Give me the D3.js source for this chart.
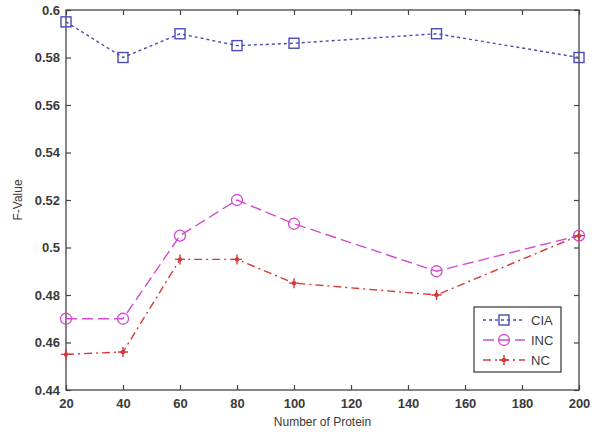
<!DOCTYPE html>
<html><head><meta charset="utf-8">
<script src="https://cdn.jsdelivr.net/npm/d3@7"></script>
<style>body{margin:0;background:#fff}svg{display:block}text{font-family:"Liberation Sans",Arial,sans-serif}</style>
</head><body>
<svg id="c" width="600" height="439"></svg>
<script>
const xValues = [20, 40, 60, 80, 100, 150, 200];
const ciaValues = [0.595, 0.580, 0.590, 0.585, 0.586, 0.590, 0.580];
const incValues = [0.470, 0.470, 0.505, 0.520, 0.510, 0.490, 0.505];
const ncValues  = [0.455, 0.456, 0.495, 0.495, 0.485, 0.480, 0.505];
const xTicks = [20, 40, 60, 80, 100, 120, 140, 160, 180, 200];
const yTicks = [0.44, 0.46, 0.48, 0.50, 0.52, 0.54, 0.56, 0.58, 0.60];
const seriesNames = ["CIA", "INC", "NC"];

const L = 66, R = 579, T = 10, B = 390;
const svg = d3.select("#c");
const x = d3.scaleLinear().domain([20, 200]).range([L, R]);
const y = d3.scaleLinear().domain([0.44, 0.60]).range([B, T]);
const fmt = d => d3.format("")(+d.toFixed(2));
const axisCol = "#444";
const textCol = "#3a3a3a";

svg.append("rect").attr("x", L).attr("y", T).attr("width", R - L).attr("height", B - T)
  .attr("fill", "#fff").attr("stroke", axisCol).attr("stroke-width", 1.3);

function styleAxis(g, labels) {
  g.select(".domain").remove();
  g.selectAll("line").attr("stroke", axisCol).attr("stroke-width", 1.2);
  g.selectAll("text").attr("fill", textCol).attr("font-size", 13).attr("font-weight", "bold")
    .style("display", labels ? null : "none");
}
svg.append("g").attr("transform", `translate(0,${B})`)
  .call(d3.axisBottom(x).tickValues(xTicks).tickSize(-5).tickPadding(9).tickFormat(d3.format("d")))
  .call(g => styleAxis(g, true));
svg.append("g").attr("transform", `translate(0,${T})`)
  .call(d3.axisTop(x).tickValues(xTicks).tickSize(-5).tickFormat(""))
  .call(g => styleAxis(g, false));
svg.append("g").attr("transform", `translate(${L},0)`)
  .call(d3.axisLeft(y).tickValues(yTicks).tickSize(-5).tickPadding(6).tickFormat(fmt))
  .call(g => styleAxis(g, true));
svg.append("g").attr("transform", `translate(${R},0)`)
  .call(d3.axisRight(y).tickValues(yTicks).tickSize(-5).tickFormat(""))
  .call(g => styleAxis(g, false));

svg.append("text").attr("x", (L + R) / 2).attr("y", 426).attr("text-anchor", "middle")
  .attr("font-size", 12).attr("fill", textCol).text("Number of Protein");
svg.append("text").attr("transform", `translate(22,${(T + B) / 2}) rotate(-90)`)
  .attr("text-anchor", "middle").attr("font-size", 12).attr("fill", textCol).text("F-Value");

const series = [
  {name: seriesNames[0], vals: ciaValues, color: "#4a4ab8", dash: "3,3", marker: "square"},
  {name: seriesNames[1], vals: incValues, color: "#d24ad2", dash: "11,5", marker: "circle"},
  {name: seriesNames[2], vals: ncValues,  color: "#d23a3a", dash: "8,4,2,4", marker: "star"}
];
const line = d3.line().x(d => x(d[0])).y(d => y(d[1]));

function drawMarker(g, type, cx, cy, color) {
  if (type === "square") {
    g.append("rect").attr("x", cx - 5).attr("y", cy - 5).attr("width", 10).attr("height", 10)
      .attr("fill", "none").attr("stroke", color).attr("stroke-width", 1.4);
  } else if (type === "circle") {
    g.append("circle").attr("cx", cx).attr("cy", cy).attr("r", 5.5)
      .attr("fill", "none").attr("stroke", color).attr("stroke-width", 1.3);
  } else {
    g.append("circle").attr("cx", cx).attr("cy", cy).attr("r", 2.2).attr("fill", color);
    g.append("path").attr("d", `M${cx-5},${cy}H${cx+5}M${cx},${cy-5}V${cy+5}`)
      .attr("stroke", color).attr("stroke-width", 1.4);
  }
}

series.forEach(s => {
  const pts = xValues.map((xv, i) => [xv, s.vals[i]]);
  svg.append("path").datum(pts).attr("d", line).attr("fill", "none")
    .attr("stroke", s.color).attr("stroke-width", 1.4).attr("stroke-dasharray", s.dash);
  const g = svg.append("g");
  pts.forEach(p => drawMarker(g, s.marker, x(p[0]), y(p[1]), s.color));
});

const lg = svg.append("g");
lg.append("rect").attr("x", 474).attr("y", 307).attr("width", 87).attr("height", 65)
  .attr("fill", "#fff").attr("stroke", axisCol).attr("stroke-width", 1.3);
series.forEach((s, i) => {
  const cy = 320 + i * 20;
  lg.append("line").attr("x1", 483).attr("x2", 525).attr("y1", cy).attr("y2", cy)
    .attr("stroke", s.color).attr("stroke-width", 1.4).attr("stroke-dasharray", s.dash);
  drawMarker(lg, s.marker, 504, cy, s.color);
  lg.append("text").attr("x", 531).attr("y", cy + 5).attr("font-size", 13).attr("fill", textCol).text(s.name);
});
</script>
</body></html>
